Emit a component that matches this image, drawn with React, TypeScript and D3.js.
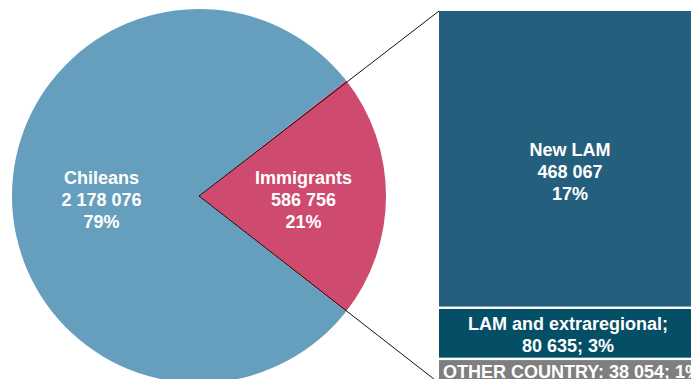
import React from "react";
import * as d3 from "d3";

const pieLabels = ["Immigrants", "Chileans"];
const pieValues = [586756, 2178076];
const pieValueText = ["586 756", "2 178 076"];
const piePctText = ["21%", "79%"];
const pieColors = ["#cf4a6f", "#669fbd"];

const barLabels = ["New LAM", "LAM and extraregional", "OTHER COUNTRY"];
const barValues = [468067, 80635, 38054];
const barValueText = ["468 067", "80 635", "38 054"];
const barPctText = ["17%", "3%", "1%"];
const barColors = ["#24607e", "#044f66", "#7f7f7f"];

const W = 691;
const H = 379;

export default function App() {
  const cx = 199;
  const cy = 196;
  const r = 187;
  const total = d3.sum(pieValues);
  const span = (pieValues[0] / total) * 2 * Math.PI;
  const start = Math.PI / 2 - span / 2;
  const pie = d3
    .pie<number>()
    .sort(null)
    .value((d) => d)
    .startAngle(start)
    .endAngle(start + 2 * Math.PI);
  const arcs = pie(pieValues);
  const arc = d3.arc<d3.PieArcDatum<number>>().innerRadius(0).outerRadius(r);
  const labelArc = d3.arc<d3.PieArcDatum<number>>().innerRadius(0).outerRadius(r * 1.08);

  const barX = 439;
  const barW = 262;
  const barTop = 11;
  const barBottom = 383;
  const barTotal = d3.sum(barValues);
  const y = d3.scaleLinear().domain([0, barTotal]).range([barTop, barBottom]);
  const cum = barValues.map((_, i) => d3.sum(barValues.slice(0, i)));
  const bcx = barX + barW / 2;

  const font = "'Liberation Sans', Arial, sans-serif";

  const pieLabelLines = (i: number) => [pieLabels[i], pieValueText[i], piePctText[i]];

  return (
    <svg
      width={W}
      height={H}
      style={{ position: "absolute", left: 0, top: 0, overflow: "hidden", background: "#fff" }}
      fontFamily={font}
    >
      <g transform={`translate(${cx},${cy})`}>
        {arcs.map((a, i) => (
          <path key={i} d={arc(a) || ""} fill={pieColors[i]} />
        ))}
        {arcs.map((a, i) => {
          const [cxl, ly] = labelArc.centroid(a);
          const lx = cxl + 3.5;
          const lines = pieLabelLines(i);
          return (
            <text
              key={"t" + i}
              x={lx}
              y={ly}
              textAnchor="middle"
              fill="#fff"
              fontWeight="bold"
              fontSize={18}
            >
              {lines.map((l, j) => (
                <tspan key={j} x={lx} y={ly + 10 + (j - 1) * 21.7}>
                  {l}
                </tspan>
              ))}
            </text>
          );
        })}
      </g>

      {barValues.map((v, i) => {
        const y0 = y(cum[i]);
        const y1 = y(cum[i] + v);
        return (
          <rect
            key={i}
            x={barX}
            y={y0 + (i > 0 ? 1.2 : 0)}
            width={barW}
            height={y1 - y0 - (i > 0 ? 1.2 : 0) - (i < barValues.length - 1 ? 1.2 : 0)}
            fill={barColors[i]}
          />
        );
      })}

      <text textAnchor="middle" fill="#fff" fontWeight="bold" fontSize={18}>
        <tspan x={bcx} y={156}>{barLabels[0]}</tspan>
        <tspan x={bcx} y={178}>{barValueText[0]}</tspan>
        <tspan x={bcx} y={200}>{barPctText[0]}</tspan>
      </text>
      <text textAnchor="middle" fill="#fff" fontWeight="bold" fontSize={18}>
        <tspan x={bcx - 2} y={330}>{barLabels[1] + ";"}</tspan>
        <tspan x={bcx - 2} y={352}>{`${barValueText[1]}; ${barPctText[1]}`}</tspan>
      </text>
      <text textAnchor="middle" fill="#fff" fontWeight="bold" fontSize={18}>
        <tspan x={bcx + 2} y={378}>{`${barLabels[2]}: ${barValueText[2]}; ${barPctText[2]}`}</tspan>
      </text>

      <line x1={cx} y1={cy} x2={barX} y2={barTop} stroke="#111" strokeWidth={1} />
      <line x1={cx} y1={cy} x2={barX} y2={barBottom} stroke="#111" strokeWidth={1} />
    </svg>
  );
}
